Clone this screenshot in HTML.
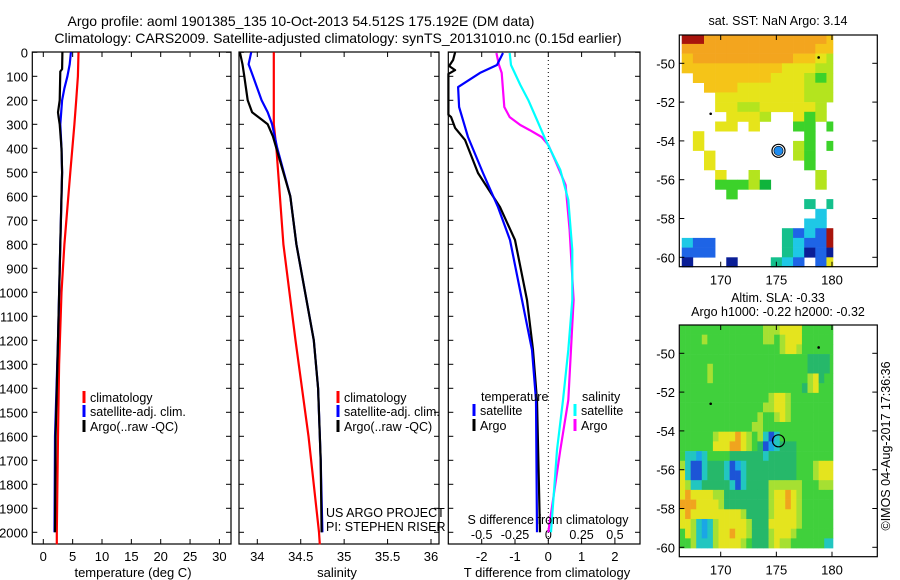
<!DOCTYPE html>
<html><head><meta charset="utf-8"><style>
html,body{margin:0;padding:0;background:#fff;}
svg{display:block;font-family:"Liberation Sans",sans-serif;}
text{fill:#000;}
</style></head><body>
<svg id="c" width="900" height="580" viewBox="0 0 900 580" xmlns="http://www.w3.org/2000/svg">
<text x="301" y="26" font-size="14" text-anchor="middle">Argo profile: aoml 1901385_135 10-Oct-2013 54.512S 175.192E (DM data)</text>
<text x="338" y="43" font-size="14" text-anchor="middle">Climatology: CARS2009. Satellite-adjusted climatology: synTS_20131010.nc (0.15d earlier)</text>
<g id="g"></g>
</svg>
<script>
// ---------- data ----------
const depthTicks=[0,100,200,300,400,500,600,700,800,900,1000,1100,1200,1300,1400,1500,1600,1700,1800,1900,2000];
const tTicks=[0,5,10,15,20,25,30];
const sTicks=[34,34.5,35,35.5,36];
const sTickLabels=["34","34.5","35","35.5","36"];
const dTTicks=[-2,-1,0,1,2];
const dSTicks=[-0.5,-0.25,0,0.25,0.5];
const dSTickLabels=["-0.5","-0.25","0","0.25","0.5"];

const climTDepth=[0,100,200,300,500,800,1000,1300,1600,2000,2050];
const climTVal=[6.0,5.9,5.6,5.3,4.6,3.6,3.1,2.7,2.5,2.3,2.3];
const satTDepth=[0,50,100,150,200,300,400,500,800,1200,1600,2000];
const satTVal=[4.7,4.5,4.1,3.6,3.2,2.9,3.1,3.2,2.9,2.5,2.0,1.9];
const argoTDepth=[0,70,80,200,250,270,300,400,500,800,1200,1600,2000];
const argoTVal=[3.25,3.2,2.9,2.8,2.5,2.6,2.8,3.1,3.2,2.9,2.5,2.1,2.0];

const climSDepth=[0,300,400,800,1200,1600,2000,2050];
const climSVal=[34.19,34.19,34.22,34.3,34.44,34.59,34.71,34.72];
const satSDepth=[0,50,100,150,200,250,300,350,400,600,800,1000,1200,1400,1700,2000];
const satSVal=[33.93,33.9,33.95,34.0,34.05,34.12,34.17,34.2,34.23,34.38,34.45,34.55,34.65,34.7,34.73,34.75];
const argoSDepth=[0,50,100,150,200,250,280,300,350,400,600,800,1000,1200,1400,1700,2000];
const argoSVal=[33.8,33.83,33.85,33.87,33.89,33.94,34.05,34.12,34.18,34.22,34.38,34.45,34.55,34.65,34.7,34.73,34.74];

const dTSatDepth=[3,53,86,145,228,353,503,645,782,1032,1240,1449,2000];
const dTSatVal=[-1.36,-1.54,-2.05,-2.71,-2.68,-2.41,-1.96,-1.51,-1.15,-0.79,-0.49,-0.37,-0.34];
const dTArgoDepth=[0,32,57,74,90,260,270,315,365,503,645,782,1032,1240,1450,2000];
const dTArgoVal=[-2.8,-2.86,-2.98,-2.8,-3.0,-3.0,-2.92,-2.8,-2.5,-2.11,-1.45,-1.0,-0.64,-0.46,-0.34,-0.25];
const dSSatDepth=[3,53,136,199,282,365,490,615,824,1032,1240,1449,1657,2000];
const dSSatVal=[-0.29,-0.28,-0.21,-0.15,-0.085,-0.02,0.09,0.15,0.18,0.18,0.15,0.11,0.065,0.02];
const dSArgoDepth=[3,53,86,228,270,303,324,353,386,449,553,740,1032,1449,1657,2000];
const dSArgoVal=[-0.39,-0.37,-0.35,-0.33,-0.29,-0.21,-0.14,-0.05,0.0,0.05,0.13,0.16,0.19,0.15,0.09,0.0];

const lonTicks=[170,175,180];
const latTicks=[-50,-52,-54,-56,-58,-60];
const sstGrid=[
"rroooooooooooO",
"ooooooooooooOO",
"OoooooooooOOyl",
"OOOOOOOOOyyyll",
".OOOOOOOyyylgl",
"..OOOyyyyyylll",
"...yyyyyyyylll",
"...yyllyyyyyl.",
"....yyyl..ygl.",
"...yy.y...gg.g",
".y.........g..",
".y........lg.g",
"..y.......lg..",
"..y........g..",
"...y..l.....l.",
"...ggglG....l.",
"....g.........",
"...........t.t",
"............c.",
"...........cc.",
".........tbcbr",
"cbb......tcbbr",
"bbb......tcBbB",
"B...B...tcb.by"];
const sstColors={r:"#a8140c",o:"#f3a51e",O:"#f5c418",y:"#e6e41a",l:"#b4e41e",g:"#3cd22a",G:"#0fb43c",t:"#14c08c",c:"#1ec8e6",b:"#1e64e6",B:"#0a1e96"};
const slaGrid=[
"ggggggggggggggglllyyyygggggg",
"gggglggggggggggllglyyygggggg",
"ggggggggggggggggggly lgggggg".replace(" ","y"),
"gggggggggggggggggggggggghhhg".slice(0,23)+"hhhhg",
"gggggl"+"ggggggggggggggggg"+"hhhhg",
"gggggl"+"ggggggggggggggggg"+"lyhgg",
"gggggggggggggggggggggg"+"hly"+"ggg",
"gggggggggggggggg"+"lyyl"+"gggggggg",
"gggggggggggggggl"+"lyyl"+"gggggggg",
"gggggggggggggglg"+"glyl"+"gggggggg",
"ggggggggggggg"+"ll"+"ggggggggggggg",
"gggggg"+"lyyyoyl"+"g"+"lcBc"+"gggggggggg",
"gggggg"+"yyyooyl"+"gh"+"Bbc"+"hhh"+"ggggggg",
"g"+"ccbcg"+"ggg"+"hhhhhh"+"c"+"hhhhh"+"ggggggg",
"l"+"cBBc"+"hhh"+"cBbc"+"hhhhhhhhh"+"ggg"+"l"+"yyy",
"y"+"cBBc"+"hhh"+"cBBc"+"hhhhhhhhh"+"ggg"+"l"+"yyy",
"ylcch"+"hhhh"+"cBc"+"hhhh"+"llllll"+"ggg"+"lll",
"yoyyyyll"+"hhhhhhhh"+"lyyoyl"+"gggggg",
"oooyyyyl"+"hhhhhhhh"+"lyyoyl"+"gggggg",
"yoyyyyyyyyylh"+"hhh"+"lyyyyl"+"gggggg",
"yyl"+"cbc"+"l"+"yyyyy"+"l"+"hhh"+"yyyyy"+"l"+"gggggg",
"gyl"+"cbc"+"l"+"yyoyy"+"l"+"hhh"+"lyyyl"+"g"+"gggggg",
"ggl"+"ccc"+"l"+"yyyyl"+"g"+"hhh"+"lyllg"+"g"+"ggggcc"];
const slaColors={g:"#40d03c",h:"#26b86a",l:"#a6e032",y:"#e4e41e",o:"#f0a41e",c:"#22c6c0",b:"#1aa6e6",B:"#1c54d6"};
const floatLon=175.192, floatLat=-54.512;

// ---------- scales ----------
const Y0=52.3, YK=0.24, YB=544, YT=52;
const yD=d=>Y0+YK*d;
const xT1=t=>43.3+5.87*t;
const xS2=s=>257.3+86.85*(s-34);
const xT3=t=>548.3+33.3*t;
const xS3=s=>548.3+133.2*s;
const mapX=lon=>720.7+(lon-170)*11.13;
const mapY1=lat=>63.3+(-50-lat)*19.4;
const mapY2=lat=>353.3+(-50-lat)*19.4;

const NS="http://www.w3.org/2000/svg";
const G=document.getElementById("g");
function mk(tag,attrs,parent){const e=document.createElementNS(NS,tag);for(const k in attrs)e.setAttribute(k,attrs[k]);(parent||G).appendChild(e);return e;}
function txt(x,y,s,size,anchor,name){const e=mk("text",{x:x,y:y,"font-size":size,"text-anchor":anchor||"middle"});e.textContent=s;


return e;}

function frame(x1,x2,name){
 const r=mk("rect",{x:x1,y:YT,width:x2-x1,height:YB-YT,fill:"none",stroke:"#000","stroke-width":1.2});
 
 
 depthTicks.forEach(d=>{const y=yD(d);
  mk("line",{x1:x1,x2:x1+5,y1:y,y2:y,stroke:"#000"});
  mk("line",{x1:x2-5,x2:x2,y1:y,y2:y,stroke:"#000"});});
}
function xticks(vals,fx,labels,name){
 vals.forEach((v,i)=>{const x=fx(v);
  mk("line",{x1:x,x2:x,y1:YT,y2:YT+5,stroke:"#000"});
  mk("line",{x1:x,x2:x,y1:YB-5,y2:YB,stroke:"#000"});
  txt(x,561,labels?labels[i]:String(v),13,"middle",name);});
}
function profile(depths,vals,fx,color,name){
 const pts=depths.map((d,i)=>fx(vals[i]).toFixed(1)+","+yD(d).toFixed(1)).join(" ");
 const p=mk("polyline",{points:pts,fill:"none",stroke:color,"stroke-width":2.2,"stroke-linejoin":"round"});
 
 
}
function legend(x,y,color,label,name){
 mk("line",{x1:x,x2:x,y1:y-11,y2:y+1,stroke:color,"stroke-width":3});
 txt(x+6,y,label,12.5,"start",name);
}

// panel 1
frame(32.3,231,"temperature-panel");
depthTicks.forEach(d=>txt(28,yD(d)+5,String(d),13,"end","depth-tick-label"));
xticks(tTicks,xT1,null,"temperature-tick-label");
txt(133,577,"temperature (deg C)",13,"middle","temperature-axis-title");
profile(climTDepth,climTVal,xT1,"#ff0000","temp-climatology-line");
profile(satTDepth,satTVal,xT1,"#0000ff","temp-satellite-line");
profile(argoTDepth,argoTVal,xT1,"#000000","temp-argo-line");
legend(84,402,"#ff0000","climatology","legend-climatology");
legend(84,416,"#0000ff","satellite-adj. clim.","legend-satellite");
legend(84,431,"#000000","Argo(..raw -QC)","legend-argo");

// panel 2
frame(239,439,"salinity-panel");
xticks(sTicks,xS2,sTickLabels,"salinity-tick-label");
txt(337,577,"salinity",13,"middle","salinity-axis-title");
profile(climSDepth,climSVal,xS2,"#ff0000","sal-climatology-line");
profile(satSDepth,satSVal,xS2,"#0000ff","sal-satellite-line");
profile(argoSDepth,argoSVal,xS2,"#000000","sal-argo-line");
legend(338,402,"#ff0000","climatology","legend-climatology-2");
legend(338,416,"#0000ff","satellite-adj. clim.","legend-satellite-2");
legend(338,431,"#000000","Argo(..raw -QC)","legend-argo-2");
txt(326,517,"US ARGO PROJECT",12.5,"start","project-credit");
txt(326,531,"PI: STEPHEN RISER",12.5,"start","pi-credit");

// panel 3
frame(448.3,640,"difference-panel");
mk("line",{x1:548.3,x2:548.3,y1:YT,y2:YB,stroke:"#000","stroke-dasharray":"1,3"});
dTTicks.forEach(v=>{const x=xT3(v);
 mk("line",{x1:x,x2:x,y1:YT,y2:YT+5,stroke:"#000"});
 mk("line",{x1:x,x2:x,y1:YB-5,y2:YB,stroke:"#000"});
 txt(x,561,String(v),13,"middle","t-diff-tick-label");});
dSTicks.forEach((v,i)=>txt(xS3(v),539,dSTickLabels[i],12.5,"middle","s-diff-tick-label"));
profile(dSArgoDepth,dSArgoVal,xS3,"#ff00ff","s-diff-argo-line");
profile(dSSatDepth,dSSatVal,xS3,"#00ffff","s-diff-satellite-line");
profile(dTArgoDepth,dTArgoVal,xT3,"#000000","t-diff-argo-line");
profile(dTSatDepth,dTSatVal,xT3,"#0000ff","t-diff-satellite-line");
txt(548,524,"S difference from climatology",12.5,"middle","s-diff-axis-title");
txt(547,577,"T difference from climatology",13,"middle","t-diff-axis-title");
txt(481,401,"temperature",12.5,"start","legend-temperature-header");
legend(474,415,"#0000ff","satellite","legend-t-satellite");
legend(474,430,"#000000","Argo","legend-t-argo");
txt(582,401,"salinity",12.5,"start","legend-salinity-header");
legend(575,415,"#00ffff","satellite","legend-s-satellite");
legend(575,430,"#ff00ff","Argo","legend-s-argo");

// maps
function drawMap(top,bottom,mapY,name){
 const r=mk("rect",{x:679.3,y:top,width:198,height:bottom-top,fill:"none",stroke:"#000","stroke-width":1.2});
 
 
 lonTicks.forEach(l=>{const x=mapX(l);
  mk("line",{x1:x,x2:x,y1:top,y2:top+5,stroke:"#000"});
  mk("line",{x1:x,x2:x,y1:bottom-5,y2:bottom,stroke:"#000"});
  txt(x,bottom+18,String(l),13,"middle","map-lon-label");});
 latTicks.forEach(l=>{const y=mapY(l);
  mk("line",{x1:679.3,x2:684.3,y1:y,y2:y,stroke:"#000"});
  mk("line",{x1:872.3,x2:877.3,y1:y,y2:y,stroke:"#000"});
  txt(675,y+5,String(l),13,"end","map-lat-label");});
}
const sstG=mk("g",{});


sstGrid.forEach((row,r)=>{for(let c=0;c<row.length;c++){const ch=row[c];if(!sstColors[ch])continue;
 const lat=-48.5-0.5*r, lon=166.5+c;
 let y1=Math.max(35,mapY1(lat)), y2=mapY1(lat-0.5);
 let x1=Math.max(680,mapX(lon)), x2=Math.min(833,mapX(lon+1));
 const cell=mk("rect",{x:x1,y:y1,width:x2-x1+0.3,height:y2-y1+0.3,fill:sstColors[ch]},sstG);
 
 }});
drawMap(35,266.7,mapY1,"sst-map");
txt(778,25,"sat. SST: NaN Argo: 3.14",12.5,"middle","sst-map-title");
mk("circle",{cx:mapX(floatLon),cy:mapY1(floatLat),r:6.5,fill:"#fff",stroke:"#000","stroke-width":1.2});
const m1=mk("circle",{cx:mapX(floatLon),cy:mapY1(floatLat),r:4.6,fill:"#1e8cf0",stroke:"#000","stroke-width":0.6});


mk("circle",{cx:mapX(178.8),cy:mapY1(-49.7),r:1.3,fill:"#000"});
mk("circle",{cx:mapX(169.1),cy:mapY1(-52.6),r:1.3,fill:"#000"});

const slaG=mk("g",{});


slaGrid.forEach((row,r)=>{for(let c=0;c<row.length;c++){const ch=row[c];if(!slaColors[ch])continue;
 const lat=-48.54-0.5*r, lon=166.3+0.5*c;
 let y1=mapY2(lat), y2=Math.min(549,mapY2(lat-0.5));
 let x1=Math.max(680,mapX(lon)), x2=Math.min(833,mapX(lon+0.5));
 const cell=mk("rect",{x:x1,y:y1,width:x2-x1+0.3,height:y2-y1+0.3,fill:slaColors[ch]},slaG);
 
 }});
drawMap(325,556.7,mapY2,"sla-map");
txt(778,302,"Altim. SLA: -0.33",12.5,"middle","sla-map-title");
txt(778,316,"Argo h1000: -0.22 h2000: -0.32",12.5,"middle","sla-map-subtitle");
const m2=mk("circle",{cx:mapX(floatLon),cy:mapY2(floatLat),r:6,fill:"none",stroke:"#000","stroke-width":1.2});


mk("circle",{cx:mapX(178.8),cy:mapY2(-49.7),r:1.3,fill:"#000"});
mk("circle",{cx:mapX(169.1),cy:mapY2(-52.6),r:1.3,fill:"#000"});
const cr=txt(0,0,"©IMOS 04-Aug-2017 17:36:36",12.5,"middle","imos-credit");
cr.setAttribute("transform","translate(890,446) rotate(-90)");
</script>
</body></html>
